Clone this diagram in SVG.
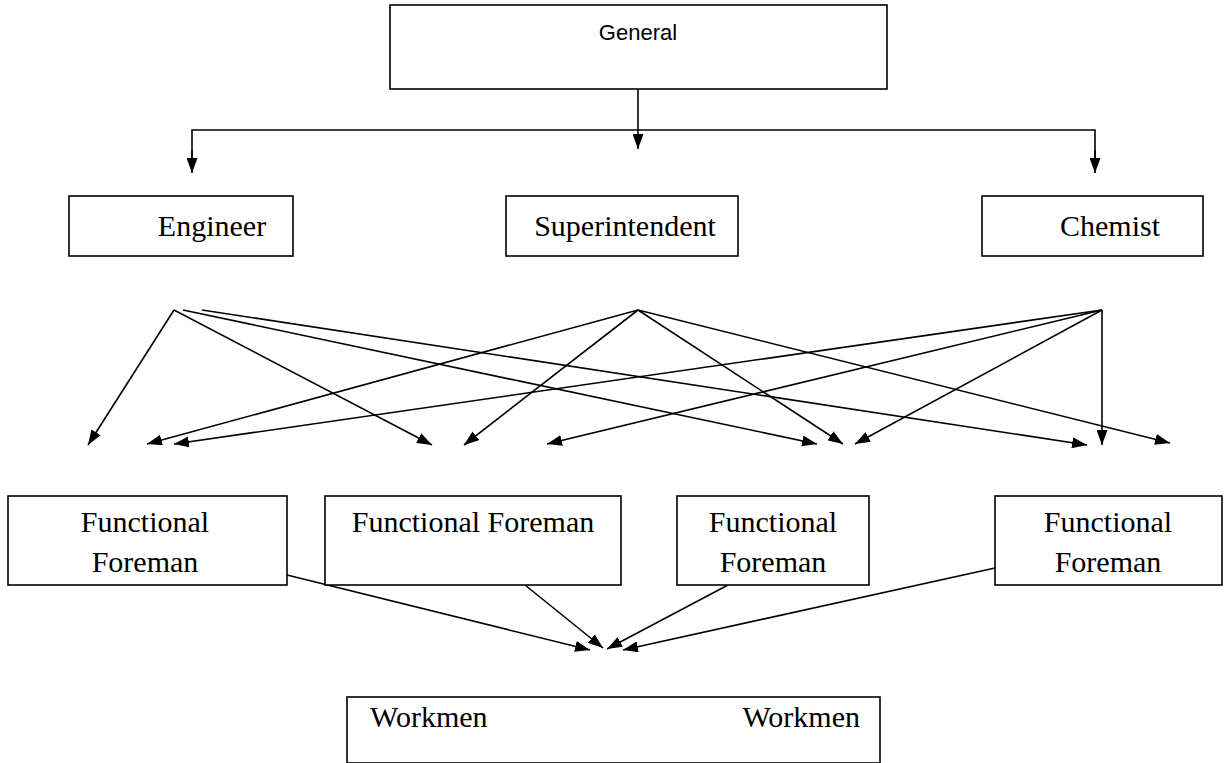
<svg xmlns="http://www.w3.org/2000/svg" width="1231" height="763" viewBox="0 0 1231 763">
  <defs>
    <marker id="arrow" viewBox="0 0 15 11" refX="15" refY="5.5" markerWidth="15" markerHeight="11" markerUnits="userSpaceOnUse" orient="auto">
      <path d="M0,0 L15,5.5 L0,11 Z" fill="#000"/>
    </marker>
  </defs>
  <style>
    .box { fill: #fff; stroke: #000; stroke-width: 1.6; }
    .link { fill: none; stroke: #000; stroke-width: 1.6; marker-end: url(#arrow); }
    .plain { fill: none; stroke: #000; stroke-width: 1.6; }
    .serif { font-family: "Liberation Serif", "Times New Roman", serif; font-size: 30px; fill: #000; }
    .sans { font-family: "Liberation Sans", Arial, sans-serif; font-size: 22px; fill: #000; }
  </style>
  <rect width="1231" height="763" fill="#fff"/>

  <!-- connectors -->
  <g id="connectors">
    <!-- General to the three department heads -->
    <line class="link" x1="638" y1="89" x2="638" y2="149"/>
    <polyline class="plain" points="192,160 192,130 1095,130 1095,160"/>
    <line class="link" x1="192" y1="150" x2="192" y2="173"/>
    <line class="link" x1="1095" y1="150" x2="1095" y2="173"/>

    <!-- Engineer lines -->
    <line class="link" x1="174" y1="310" x2="88" y2="445"/>
    <line class="link" x1="174" y1="310" x2="432" y2="445"/>
    <line class="link" x1="183" y1="310" x2="817" y2="444"/>
    <line class="link" x1="202" y1="310" x2="1087" y2="445"/>

    <!-- Superintendent lines -->
    <line class="link" x1="638" y1="310" x2="147" y2="444"/>
    <line class="link" x1="638" y1="310" x2="464" y2="445"/>
    <line class="link" x1="638" y1="310" x2="843" y2="444"/>
    <line class="link" x1="638" y1="310" x2="1170" y2="443"/>

    <!-- Chemist lines -->
    <line class="link" x1="1102" y1="310" x2="174" y2="444"/>
    <line class="link" x1="1102" y1="310" x2="547" y2="444"/>
    <line class="link" x1="1102" y1="310" x2="855" y2="444"/>
    <line class="link" x1="1102" y1="310" x2="1102" y2="445"/>

    <!-- Functional foremen to workmen -->
    <line class="link" x1="287" y1="575" x2="590" y2="650"/>
    <line class="link" x1="525" y1="585" x2="603" y2="648"/>
    <line class="link" x1="728" y1="585" x2="607" y2="649"/>
    <line class="link" x1="995" y1="568" x2="623" y2="650"/>
  </g>

  <g id="general">
    <rect class="box" x="390" y="5" width="497" height="84"/>
    <text class="sans" x="638" y="40" text-anchor="middle">General</text>
  </g>

  <g id="engineer">
    <rect class="box" x="69" y="196" width="224" height="60"/>
    <text class="serif" x="212" y="236" text-anchor="middle">Engineer</text>
  </g>

  <g id="superintendent">
    <rect class="box" x="506" y="196" width="232" height="60"/>
    <text class="serif" x="625" y="236" text-anchor="middle">Superintendent</text>
  </g>

  <g id="chemist">
    <rect class="box" x="982" y="196" width="221" height="60"/>
    <text class="serif" x="1110" y="236" text-anchor="middle">Chemist</text>
  </g>

  <g id="foreman-1">
    <rect class="box" x="8" y="496" width="279" height="89"/>
    <text class="serif" x="145" y="532" text-anchor="middle">Functional</text>
    <text class="serif" x="145" y="572" text-anchor="middle">Foreman</text>
  </g>

  <g id="foreman-2">
    <rect class="box" x="325" y="496" width="296" height="89"/>
    <text class="serif" x="473" y="532" text-anchor="middle">Functional Foreman</text>
  </g>

  <g id="foreman-3">
    <rect class="box" x="677" y="496" width="192" height="89"/>
    <text class="serif" x="773" y="532" text-anchor="middle">Functional</text>
    <text class="serif" x="773" y="572" text-anchor="middle">Foreman</text>
  </g>

  <g id="foreman-4">
    <rect class="box" x="995" y="496" width="227" height="89"/>
    <text class="serif" x="1108" y="532" text-anchor="middle">Functional</text>
    <text class="serif" x="1108" y="572" text-anchor="middle">Foreman</text>
  </g>

  <g id="workmen">
    <rect class="box" x="347" y="697" width="533" height="66"/>
    <text class="serif" x="370" y="727">Workmen</text>
    <text class="serif" x="860" y="727" text-anchor="end">Workmen</text>
  </g>
</svg>
